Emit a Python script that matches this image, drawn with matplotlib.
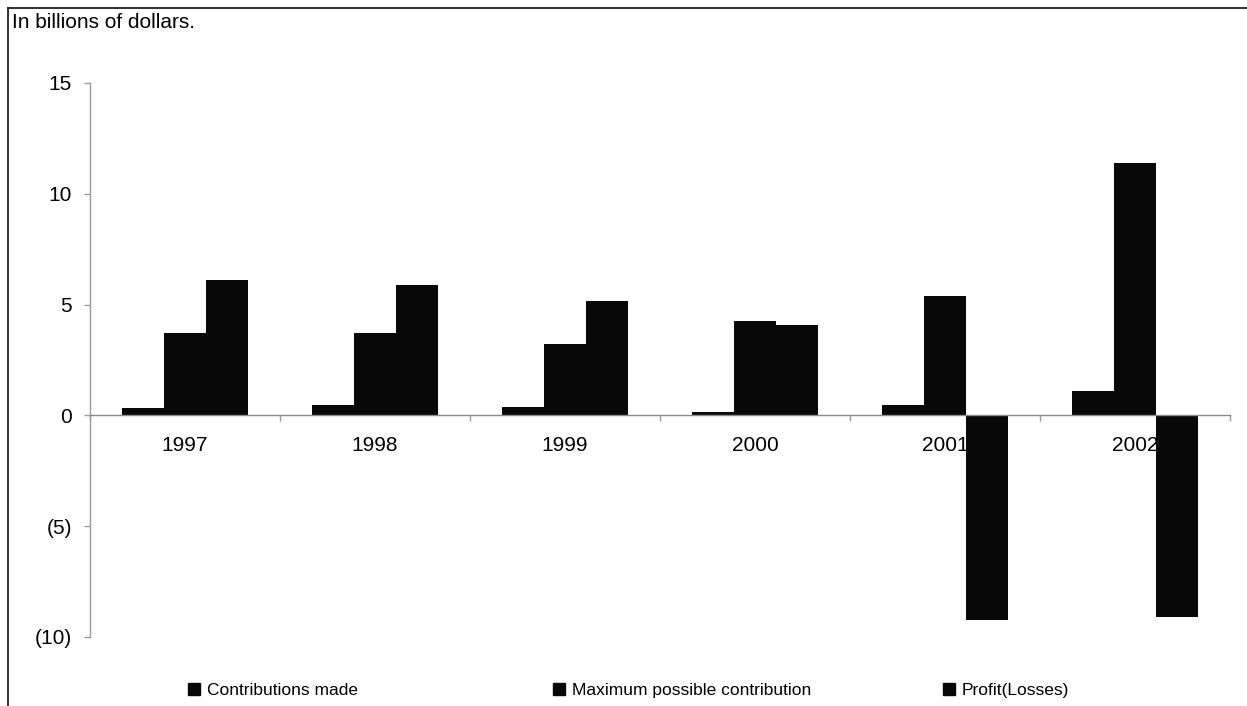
import matplotlib
matplotlib.use('Agg')
from matplotlib import pyplot as plt
from matplotlib.lines import Line2D
from matplotlib.ticker import FixedLocator, FuncFormatter
import numpy as np

plt.rcParams['font.family'] = ['Liberation Sans', 'DejaVu Sans']

# Values in billions of dollars
years = ['1997', '1998', '1999', '2000', '2001', '2002']
contributions_made = [0.35, 0.45, 0.4, 0.15, 0.45, 1.1]
max_possible = [3.7, 3.7, 3.2, 4.25, 5.4, 11.4]
profit_losses = [6.1, 5.9, 5.15, 4.1, -9.25, -9.1]

series = [('Contributions made', contributions_made),
          ('Maximum possible contribution', max_possible),
          ('Profit(Losses)', profit_losses)]
y_ticks = [-10, -5, 0, 5, 10, 15]


def paren_fmt(v, pos):
    # negative numbers shown in brackets, like the source spreadsheet
    v = int(round(v))
    return f'({abs(v)})' if v < 0 else f'{v}'


fig = plt.figure(figsize=(12.47, 7.06), dpi=100)
ax = fig.add_axes([90 / 1247, 69 / 706, 1140 / 1247, 554 / 706])

x = np.arange(len(years))
width = 0.222
bar_color = '#080808'
for i, (name, vals) in enumerate(series):
    ax.bar(x + (i - 1) * width, vals, width, color=bar_color, label=name, zorder=2)

ax.set_xlim(-0.5, len(years) - 0.5)
ax.set_ylim(-10, 15)

ax.set_axisbelow(True)
for side in ['top', 'right']:
    ax.spines[side].set_visible(False)
ax.spines['left'].set_color('#9a9a9a')
ax.spines['left'].set_linewidth(1.0)
ax.spines['bottom'].set_position(('data', 0))
ax.spines['bottom'].set_color('#8a8a8a')
ax.spines['bottom'].set_linewidth(1.0)

ax.yaxis.set_major_locator(FixedLocator(y_ticks))
ax.yaxis.set_major_formatter(FuncFormatter(paren_fmt))
ax.tick_params(axis='y', direction='out', length=4, width=1, color='#9a9a9a',
               labelsize=15, pad=9)

ax.set_xticks(x)
ax.set_xticklabels(years)
ax.set_xticks(np.arange(len(years) + 1) - 0.5, minor=True)
ax.tick_params(axis='x', which='major', length=0, labelsize=15, pad=15)
ax.tick_params(axis='x', which='minor', direction='out', length=4, width=1,
               color='#9a9a9a')

# legend: three separate entries placed along the bottom
legend_x = [188 / 1247, 553 / 1247, 943 / 1247]
for lx, (name, _) in zip(legend_x, series):
    h = Line2D([], [], marker='s', linestyle='none', markersize=8,
               color=bar_color)
    leg = fig.legend([h], [name], loc='center left',
                     bbox_to_anchor=(lx, 16 / 706), frameon=False,
                     fontsize=12.5, handlelength=0.7, handletextpad=0.4,
                     borderpad=0, borderaxespad=0)

fig.text(12 / 1247, 1 - 23 / 706, 'In billions of dollars.', fontsize=15,
         va='center', ha='left')

# outer frame of the scanned chart (top and left edges)
fig.add_artist(Line2D([8 / 1247, 1], [1 - 8 / 706, 1 - 8 / 706],
                      color='#222222', linewidth=1.3))
fig.add_artist(Line2D([8 / 1247, 8 / 1247], [0, 1 - 8 / 706],
                      color='#222222', linewidth=1.3))

fig.savefig('out.png', dpi=100)
